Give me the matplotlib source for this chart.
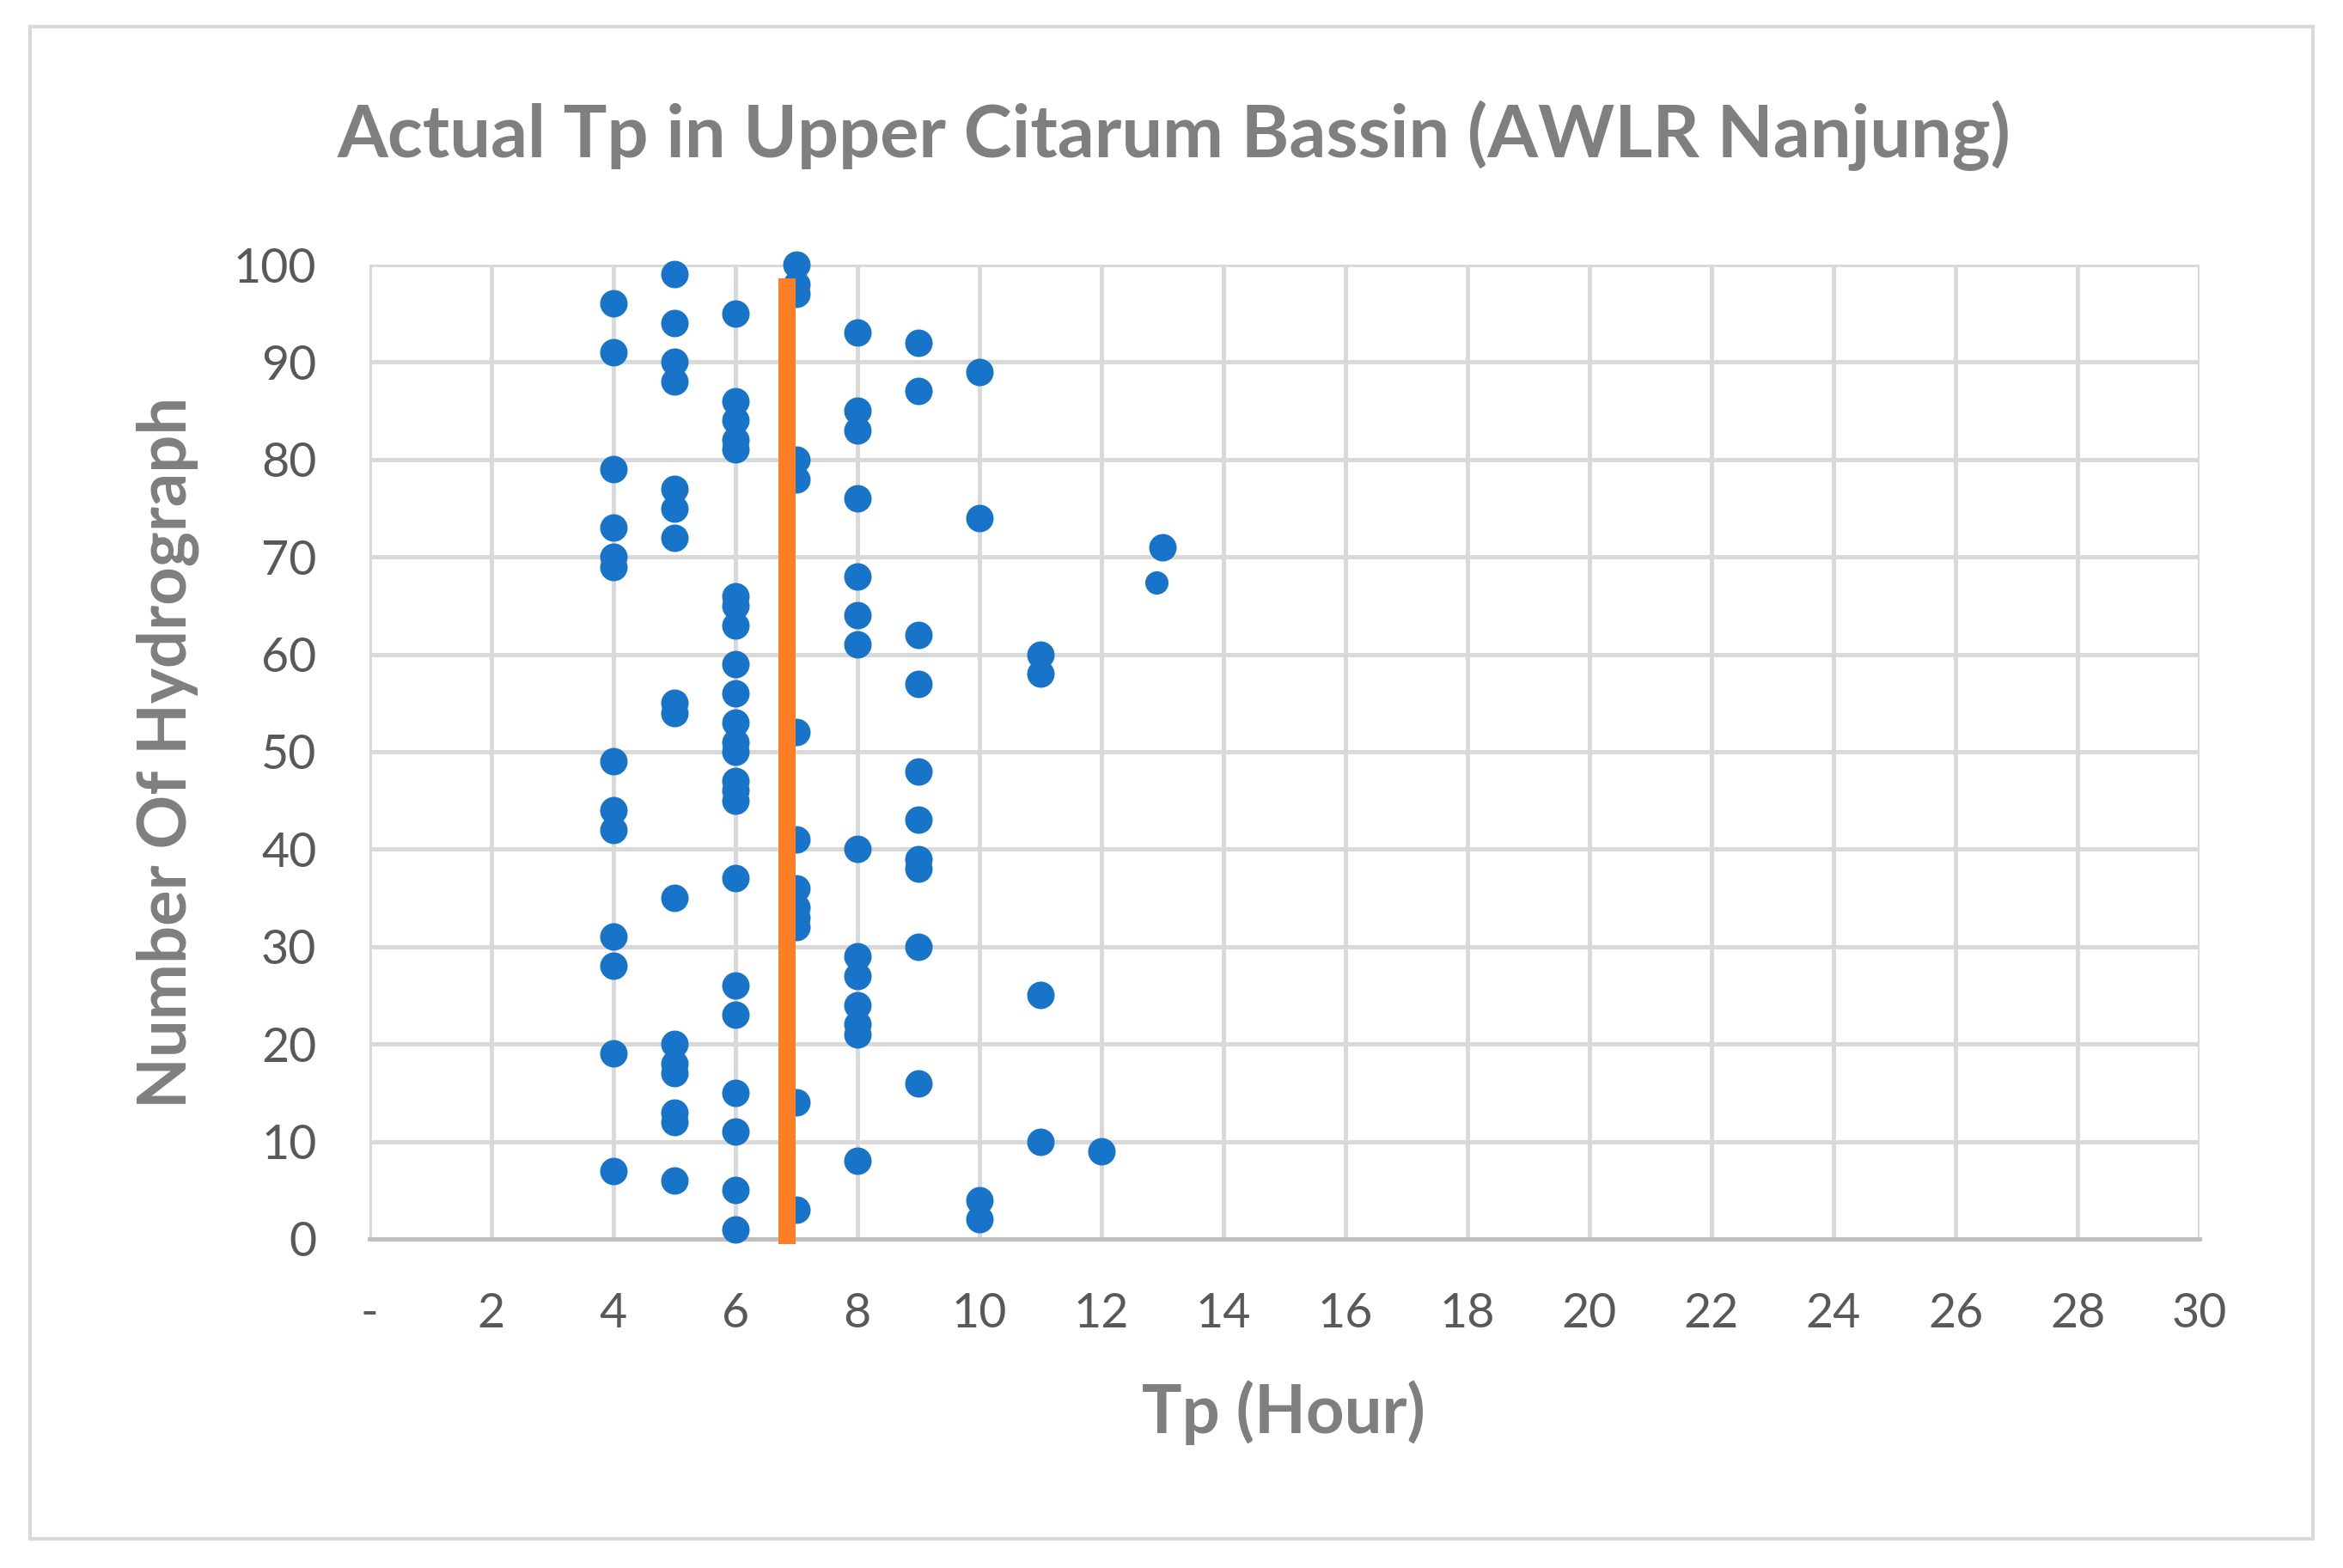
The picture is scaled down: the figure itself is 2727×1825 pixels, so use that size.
import matplotlib
matplotlib.use("Agg")
import matplotlib.pyplot as plt
import numpy as np
from matplotlib.patches import Rectangle

# hydrograph number and its time to peak (hours)
hydrograph_no = list(range(1, 101))
tp_hours = [6, 10, 7, 10, 6, 5, 4, 8, 12, 11,
            6, 5, 5, 7, 6, 9, 5, 5, 4, 5,
            8, 8, 6, 8, 11, 6, 8, 4, 8, 9,
            4, 7, 7, 7, 5, 7, 6, 9, 9, 8,
            7, 4, 9, 4, 6, 6, 6, 9, 4, 6,
            6, 7, 6, 5, 5, 6, 9, 11, 6, 11,
            8, 9, 6, 8, 6, 6, None, 8, 4, 4,
            13, 5, 4, 10, 5, 8, 5, 7, 4, 7,
            6, 6, 8, 6, 8, 6, 9, 5, 10, 5,
            4, 9, 8, 5, 6, 4, 7, 7, 5, 7]
# the odd, smaller marker near (13, 67)
odd_tp = [12.9]
odd_no = [67.4]

# average Tp line
avg_line_y = [-0.5, 98.6]

xticks = list(range(0, 31, 2))
xtick_labels = ['-'] + [str(v) for v in xticks[1:]]
yticks = list(range(0, 101, 10))

pairs = [(t, n) for t, n in zip(tp_hours, hydrograph_no) if t is not None]
tp = np.array([p[0] for p in pairs])
no = np.array([p[1] for p in pairs])
tp_mean = np.mean(list(tp) + odd_tp)

blue = '#1874C8'
orange = '#FF7F27'
grey_txt = '#7F7F7F'
grid_c = '#D9D9D9'

fig = plt.figure(figsize=(27.27, 18.25), dpi=100)
ax = fig.add_axes([0.1575, 0.2099, 0.9388 - 0.1575, 0.8312 - 0.2099])

ax.scatter(tp, no, s=530, color=blue, zorder=3, linewidths=0, clip_on=False)
ax.scatter(odd_tp, odd_no, s=380, color=blue, zorder=3, linewidths=0)
ax.plot([tp_mean, tp_mean], avg_line_y, color=orange, lw=14.4,
        solid_capstyle='butt', zorder=4, clip_on=False)

ax.set_xlim(0, 30)
ax.set_ylim(0, 100)
ax.set_xticks(xticks)
ax.set_xticklabels(xtick_labels)
ax.set_yticks(yticks)
ax.grid(True, color=grid_c, lw=3.6, zorder=0)
ax.set_axisbelow(True)
for s in ['top', 'right', 'left']:
    ax.spines[s].set_visible(False)
ax.spines['bottom'].set_color('#BFBFBF')
ax.spines['bottom'].set_linewidth(3.6)
ax.tick_params(length=0, labelsize=40, labelcolor='#595959')
ax.tick_params(axis='y', pad=44)
ax.tick_params(axis='x', pad=45)
for lab in ax.get_xticklabels() + ax.get_yticklabels():
    lab.set_fontfamily('Lato')

fig.text(0.501, 0.9135, 'Actual Tp in Upper Citarum Bassin (AWLR Nanjung)',
         ha='center', va='center', fontsize=61, fontweight='bold',
         color=grey_txt, family='Lato')
fig.text(0.548, 0.099, 'Tp (Hour)', ha='center', va='center', fontsize=56,
         fontweight='bold', color=grey_txt, family='Lato')
fig.text(0.0715, 0.52, 'Number Of Hydrograph', ha='center', va='center',
         rotation=90, fontsize=56, fontweight='bold', color=grey_txt,
         family='Lato')

# outer chart border
fig.patches.append(Rectangle((35 / 2727, 1 - 1791 / 1825), (2692 - 35) / 2727,
                             (1791 - 31) / 1825, transform=fig.transFigure,
                             fill=False, edgecolor=grid_c, lw=3))

fig.savefig('out.png', dpi=100)
